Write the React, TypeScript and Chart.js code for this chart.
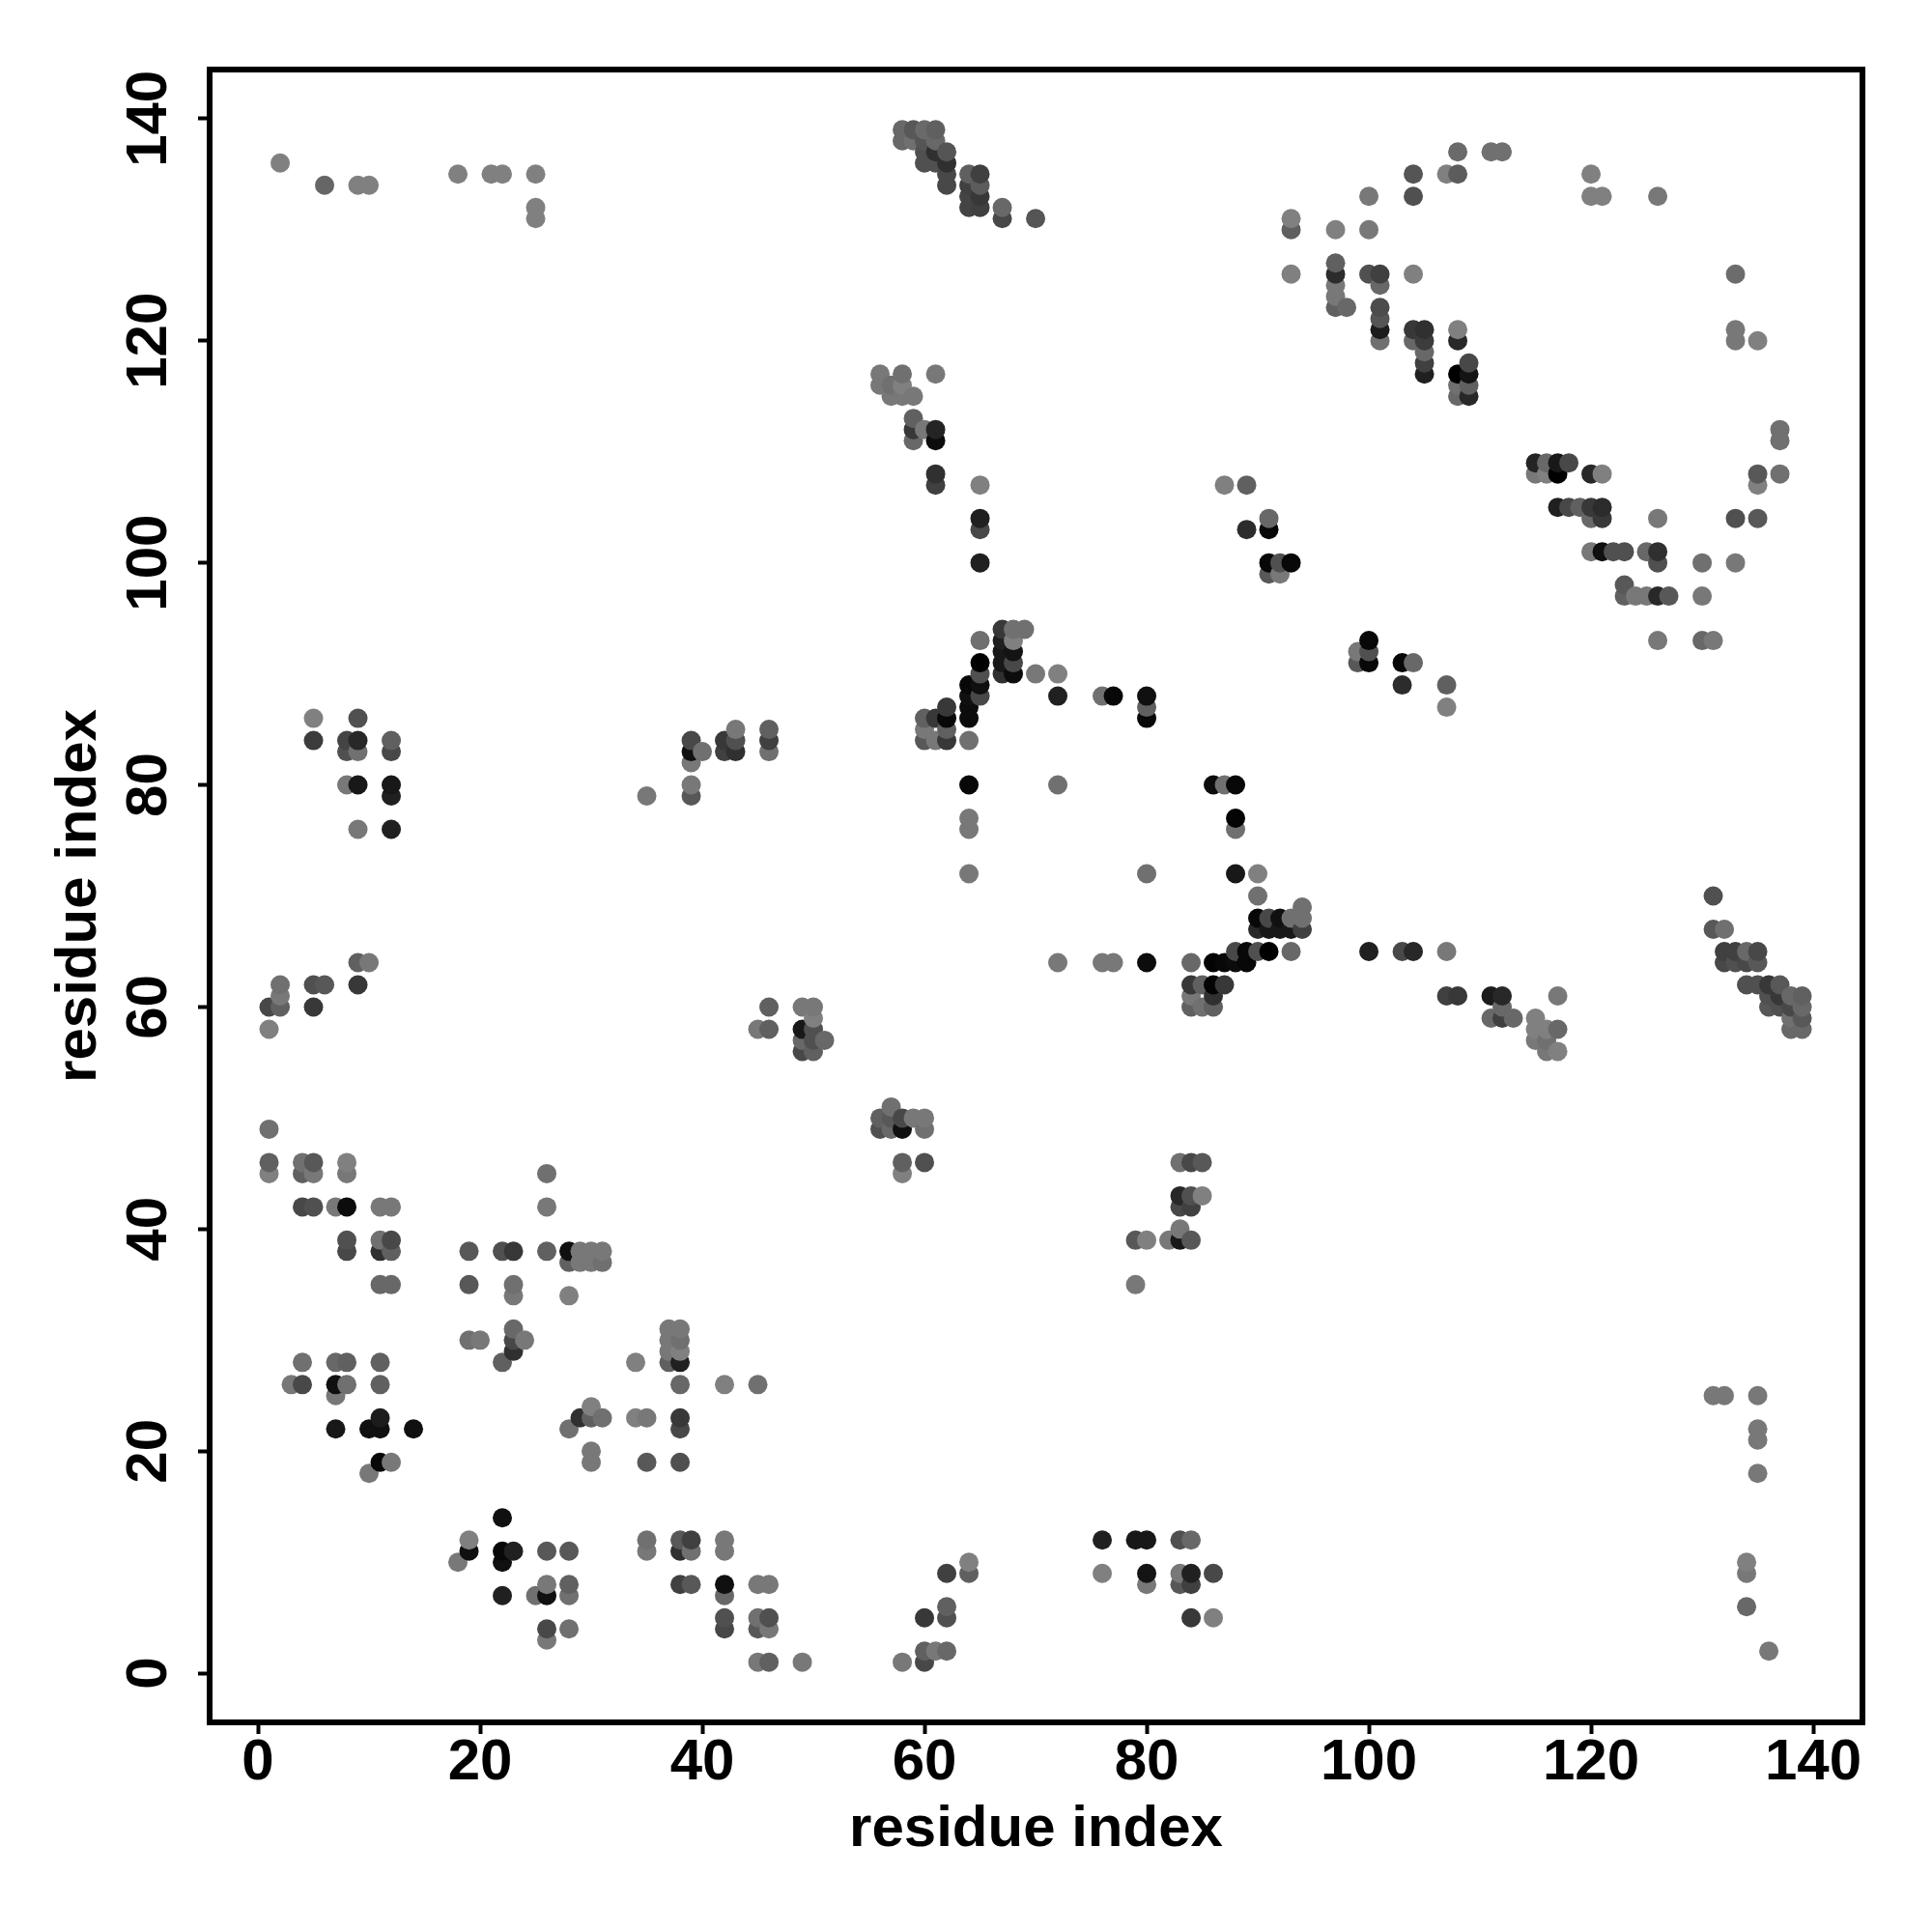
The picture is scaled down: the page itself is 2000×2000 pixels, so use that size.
import React, { useEffect, useRef } from "react";
import { Chart, registerables } from "chart.js";

Chart.register(...registerables);

type Contact = [number, number, number]; // residue x, residue y, grey level

const tickValues = [0, 20, 40, 60, 80, 100, 120, 140];
const axisTitle = "residue index";

const upperLeft: Contact[] = [
  [2,136,0x80],[6,134,0x66],[9,134,0x80],[10,134,0x80],[18,135,0x80],[21,135,0x80],[22,135,0x80],[25,135,0x80],[25,132,0x80],[25,131,0x80],
  [5,86,0x80],[5,84,0x3c],[8,84,0x44],[8,83,0x50],[9,86,0x50],[9,84,0x28],[9,83,0x70],[8,80,0x78],[9,80,0x18],[12,84,0x60],[12,83,0x48],[12,80,0x18],[12,79,0x20],[9,76,0x78],[12,76,0x20],
  [35,79,0x78],[39,79,0x58],[39,80,0x78],[39,82,0x78],[39,83,0x10],[39,84,0x48],[40,83,0x70],[42,84,0x38],[42,83,0x40],[43,85,0x78],[43,84,0x50],[43,83,0x30],[46,85,0x60],[46,84,0x40],[46,83,0x70],
  [9,64,0x60],[10,64,0x78],[9,62,0x38],
];

const topCluster: Contact[] = [
  [58,139,0x68],[58,138,0x68],[59,139,0x58],[59,138,0x70],[60,139,0x6a],[60,138,0x55],[60,137,0x50],[60,136,0x50],
  [61,139,0x60],[61,138,0x68],[61,137,0x30],[61,136,0x50],[62,137,0x55],[62,136,0x30],[62,135,0x48],[62,134,0x48],
  [64,135,0x60],[64,134,0x40],[64,133,0x44],[64,132,0x44],[65,135,0x40],[65,134,0x5c],[65,133,0x38],[65,132,0x40],
  [67,132,0x68],[67,131,0x48],[70,131,0x55],
];

const upperMiddle: Contact[] = [
  [56,117,0x78],[56,116,0x78],[57,116,0x70],[57,115,0x78],[58,117,0x70],[58,116,0x80],[58,115,0x78],[59,115,0x78],[61,117,0x78],
  [59,113,0x60],[59,112,0x38],[59,111,0x68],[60,112,0x78],[61,112,0x24],[61,111,0x0c],[61,108,0x30],[61,107,0x40],
  [65,107,0x80],[65,104,0x20],[65,103,0x48],[65,100,0x20],[87,107,0x80],[89,107,0x60],[91,104,0x68],[89,103,0x2c],[91,103,0x08],
  [91,100,0x08],[92,100,0x50],[93,100,0x08],[91,99,0x58],[92,99,0x78],
];

const middleCluster: Contact[] = [
  [60,86,0x60],[60,85,0x78],[60,84,0x58],[61,86,0x38],[61,84,0x78],[62,87,0x38],[62,86,0x08],[62,85,0x60],[62,84,0x38],
  [64,89,0x08],[64,88,0x10],[64,87,0x0c],[64,86,0x0c],[64,84,0x70],[65,93,0x70],[65,91,0x00],[65,90,0x50],[65,89,0x10],[65,88,0x48],
  [67,94,0x38],[67,93,0x20],[67,92,0x18],[67,91,0x18],[67,90,0x30],[68,94,0x70],[68,93,0x80],[68,92,0x14],[68,91,0x48],[68,90,0x0c],
  [69,94,0x70],[70,90,0x78],[72,90,0x80],[72,88,0x20],[76,88,0x70],[77,88,0x08],[80,88,0x10],[80,87,0x60],[80,86,0x08],
  [72,80,0x70],[86,80,0x0c],[87,80,0x70],[88,80,0x08],[88,77,0x04],[88,76,0x70],[88,72,0x18],[90,72,0x80],[80,72,0x70],
  [64,80,0x08],[64,77,0x78],[64,76,0x78],[64,72,0x78],[90,70,0x70],
];

const helixRow: Contact[] = [
  [94,69,0x70],[90,68,0x08],[91,68,0x48],[92,68,0x10],[93,68,0x70],[94,68,0x70],[90,67,0x28],[91,67,0x18],[92,67,0x18],[93,67,0x18],[94,67,0x40],
  [88,65,0x48],[89,65,0x08],[90,65,0x50],[91,65,0x00],[93,65,0x68],[84,64,0x68],[86,64,0x04],[87,64,0x08],[88,64,0x0c],[89,64,0x08],
  [84,62,0x38],[85,62,0x60],[86,62,0x04],[87,62,0x38],[84,61,0x78],[86,61,0x30],[84,60,0x60],[85,60,0x70],[86,60,0x60],
  [72,64,0x78],[76,64,0x78],[77,64,0x78],[80,64,0x0c],
  [100,65,0x20],[103,65,0x48],[104,65,0x28],[107,65,0x78],
  [107,61,0x40],[108,61,0x38],[111,61,0x1c],[112,61,0x28],[117,61,0x78],
  [112,60,0x68],[111,59,0x68],[112,59,0x40],[113,59,0x68],[115,59,0x80],[115,58,0x80],[115,57,0x78],[116,58,0x80],[116,57,0x70],[116,56,0x78],[117,58,0x68],[117,56,0x80],
];

const upperRight: Contact[] = [
  [108,137,0x6a],[111,137,0x70],[112,137,0x70],[104,135,0x55],[107,135,0x80],[108,135,0x5c],[120,135,0x80],
  [100,133,0x78],[104,133,0x50],[120,133,0x80],[121,133,0x80],[126,133,0x78],[93,131,0x80],[93,130,0x60],[97,130,0x80],[100,130,0x78],
  [93,126,0x80],[104,126,0x80],[133,126,0x6c],
  [97,127,0x60],[97,126,0x2c],[97,125,0x78],[97,124,0x78],[97,123,0x60],[98,123,0x68],[100,126,0x50],
  [101,126,0x40],[101,125,0x68],[101,123,0x4c],[101,122,0x55],[101,121,0x1c],[101,120,0x70],[104,121,0x38],[104,120,0x68],
  [105,121,0x30],[105,120,0x3c],[105,119,0x68],[105,118,0x40],[105,117,0x20],
  [108,121,0x80],[108,120,0x28],[108,117,0x00],[108,116,0x70],[108,115,0x68],[109,118,0x48],[109,117,0x14],[109,116,0x60],[109,115,0x28],
  [133,121,0x78],[133,120,0x78],[135,120,0x80],[137,112,0x70],[137,111,0x70],[135,108,0x58],[137,108,0x70],[135,107,0x80],
];

const betaRight: Contact[] = [
  [115,109,0x24],[116,109,0x68],[117,109,0x18],[118,109,0x48],[115,108,0x78],[116,108,0x80],[117,108,0x00],[120,108,0x28],[121,108,0x80],
  [117,105,0x20],[118,105,0x48],[119,105,0x60],[120,105,0x38],[121,105,0x2c],[120,104,0x68],[121,104,0x38],[126,104,0x78],[133,104,0x50],[135,104,0x58],
  [120,101,0x78],[121,101,0x10],[122,101,0x50],[123,101,0x50],[125,101,0x68],[126,101,0x30],[126,100,0x50],[130,100,0x70],[133,100,0x78],
  [123,98,0x58],[123,97,0x60],[124,97,0x78],[125,97,0x78],[126,97,0x28],[127,97,0x58],[130,97,0x78],[126,93,0x78],[130,93,0x68],[131,93,0x78],
  [100,93,0x08],[99,92,0x78],[100,92,0x50],[99,91,0x58],[100,91,0x08],[103,91,0x08],[104,91,0x68],[103,89,0x2c],[107,89,0x60],[107,87,0x80],
];

const rightCluster: Contact[] = [
  [131,70,0x50],[131,67,0x58],[132,67,0x70],[132,65,0x40],[133,65,0x40],[134,65,0x68],[135,65,0x48],[132,64,0x48],[133,64,0x50],[134,64,0x48],[135,64,0x58],
  [134,62,0x50],[135,62,0x50],[136,62,0x38],[137,62,0x58],[136,61,0x50],[137,61,0x38],[138,61,0x68],[139,61,0x60],
  [136,60,0x58],[137,60,0x50],[138,60,0x48],[139,60,0x68],[138,59,0x70],[139,59,0x58],[138,58,0x68],[139,58,0x68],
];

const lowerLeft: Contact[] = [
  [1,60,0x48],[2,60,0x60],[2,61,0x78],[2,62,0x70],[5,62,0x50],[6,62,0x58],[5,60,0x38],[1,58,0x80],
  [1,49,0x70],[1,46,0x60],[1,45,0x80],[4,46,0x70],[4,45,0x60],[5,46,0x58],[5,45,0x78],[8,46,0x80],[8,45,0x78],
  [4,42,0x48],[5,42,0x50],[7,42,0x78],[8,42,0x0c],[11,42,0x78],[12,42,0x78],[8,39,0x50],[8,38,0x48],[11,39,0x70],[11,38,0x30],[12,39,0x48],[12,38,0x60],[11,35,0x68],[12,35,0x68],
  [4,28,0x70],[7,28,0x68],[8,28,0x60],[11,28,0x60],[3,26,0x78],[4,26,0x48],[7,26,0x10],[8,26,0x70],[7,25,0x78],[11,26,0x60],
  [7,22,0x18],[10,22,0x10],[11,22,0x10],[11,23,0x1c],[14,22,0x10],[11,19,0x08],[12,19,0x78],[10,18,0x78],
];

const lowerMiddleLeft: Contact[] = [
  [26,45,0x70],[26,42,0x78],[19,38,0x58],[22,38,0x50],[23,38,0x38],[26,38,0x60],[28,38,0x10],[28,37,0x60],[29,38,0x78],[29,37,0x78],[30,38,0x78],[30,37,0x78],[31,38,0x78],[31,37,0x70],
  [19,35,0x58],[23,35,0x70],[23,34,0x78],[28,34,0x80],[19,30,0x70],[20,30,0x78],[23,31,0x68],[23,30,0x48],[23,29,0x30],[22,28,0x60],[24,30,0x78],
  [28,22,0x70],[29,23,0x30],[30,23,0x60],[31,23,0x70],[30,24,0x80],[30,20,0x78],[30,19,0x78],
  [34,28,0x80],[34,23,0x80],[35,23,0x78],[35,19,0x58],[38,19,0x50],[38,23,0x38],[38,22,0x48],[38,26,0x68],
  [37,31,0x78],[37,30,0x78],[37,29,0x78],[37,28,0x60],[38,31,0x78],[38,30,0x70],[38,29,0x80],[38,28,0x20],[42,26,0x80],[45,26,0x70],
];

const bottomRow: Contact[] = [
  [22,14,0x10],[19,12,0x80],[19,11,0x10],[18,10,0x78],[22,11,0x08],[22,10,0x10],[23,11,0x20],[22,7,0x20],[26,11,0x58],[28,11,0x58],[26,8,0x78],[26,7,0x10],[25,7,0x70],[28,8,0x60],[28,7,0x70],[26,4,0x48],[26,3,0x78],[28,4,0x70],
  [35,12,0x70],[35,11,0x78],[38,12,0x58],[38,11,0x30],[39,12,0x40],[39,11,0x70],[38,8,0x40],[39,8,0x58],[42,12,0x78],[42,11,0x78],[42,8,0x10],[42,7,0x68],[42,5,0x50],[42,4,0x48],
  [45,8,0x78],[46,8,0x78],[45,5,0x70],[45,4,0x58],[46,5,0x50],[46,4,0x78],[45,1,0x78],[46,1,0x60],[49,1,0x78],[58,1,0x78],[60,2,0x60],[60,1,0x48],[61,2,0x78],[62,2,0x68],[60,5,0x38],[62,6,0x60],[62,5,0x50],[62,9,0x40],[64,9,0x60],[64,10,0x80],
  [76,12,0x20],[79,12,0x18],[80,12,0x18],[83,12,0x50],[84,12,0x68],[76,9,0x80],[80,9,0x14],[80,8,0x78],[83,9,0x78],[83,8,0x58],[84,9,0x20],[84,8,0x40],[86,9,0x48],[84,5,0x38],[86,5,0x80],
];

const centerBlocks: Contact[] = [
  [45,58,0x78],[46,58,0x60],[46,60,0x60],[49,60,0x78],[50,60,0x78],[50,59,0x80],[49,58,0x18],[50,58,0x50],[49,57,0x68],[50,57,0x50],[51,57,0x68],[49,56,0x48],[50,56,0x60],
  [57,51,0x70],[56,50,0x60],[57,50,0x58],[58,50,0x48],[59,50,0x78],[60,50,0x78],[56,49,0x50],[57,49,0x68],[58,49,0x10],[60,49,0x70],[58,46,0x60],[60,46,0x50],[58,45,0x80],
  [83,46,0x70],[84,46,0x48],[85,46,0x58],[83,43,0x28],[84,43,0x50],[85,43,0x80],[83,42,0x48],[84,42,0x40],[83,40,0x78],[83,39,0x18],[84,39,0x58],[82,39,0x78],[79,39,0x58],[80,39,0x80],[79,35,0x78],
];

const lowerRight: Contact[] = [
  [131,25,0x78],[132,25,0x78],[135,25,0x78],[135,22,0x78],[135,21,0x78],[135,18,0x78],[134,10,0x80],[134,9,0x78],[134,6,0x68],[136,2,0x78],
];

const contacts: Contact[] = [
  ...upperLeft, ...topCluster, ...upperMiddle, ...middleCluster, ...helixRow, ...upperRight,
  ...betaRight, ...rightCluster, ...lowerLeft, ...lowerMiddleLeft, ...bottomRow, ...centerBlocks, ...lowerRight,
].sort((a, b) => a[0] - b[0] || a[1] - b[1]);

const FONT = "'Liberation Sans', Arial, sans-serif";
const FONT_SIZE = 60;

const framePlugin = {
  id: "frameAndYLabels",
  afterDraw(chart: any) {
    const { ctx, chartArea: a, scales } = chart;
    ctx.save();
    ctx.strokeStyle = "#000";
    ctx.lineWidth = 6;
    ctx.lineJoin = "miter";
    ctx.strokeRect(a.left, a.top, a.right - a.left, a.bottom - a.top);
    ctx.fillStyle = "#000";
    ctx.font = `bold ${FONT_SIZE}px ${FONT}`;
    ctx.textAlign = "center";
    ctx.textBaseline = "alphabetic";
    for (const v of tickValues) {
      ctx.save();
      ctx.translate(172, scales.y.getPixelForValue(v));
      ctx.rotate(-Math.PI / 2);
      ctx.fillText(String(v), 0, 0);
      ctx.restore();
    }
    ctx.restore();
  },
};

export default function App() {
  const ref = useRef<HTMLCanvasElement | null>(null);
  useEffect(() => {
    const axis = (isX: boolean) => ({
      type: "linear" as const,
      min: isX ? -4.35 : -4.42,
      max: isX ? 144.43 : 144.42,
      afterBuildTicks(scale: any) {
        scale.ticks = tickValues.map((value) => ({ value }));
      },
      afterFit(scale: any) {
        if (isX) scale.height = 217;
        else scale.width = 217;
      },
      grid: { drawOnChartArea: false, drawTicks: true, tickLength: 12, tickWidth: 4, tickColor: "#000" },
      border: { display: false },
      ticks: {
        display: isX,
        autoSkip: false,
        maxRotation: 0,
        padding: -6,
        color: "#000",
        font: { family: FONT, size: FONT_SIZE, weight: "bold" as const },
      },
      title: {
        display: true,
        text: axisTitle,
        color: "#000",
        font: { family: FONT, size: FONT_SIZE, weight: "bold" as const },
        padding: isX ? { top: 0, bottom: 70 } : { top: 46, bottom: 0 },
      },
    });
    const chart = new Chart(ref.current as HTMLCanvasElement, {
      type: "scatter",
      data: {
        datasets: [
          {
            data: contacts.map(([x, y]) => ({ x, y })),
            pointRadius: 10,
            pointHoverRadius: 10,
            pointBorderWidth: 0,
            pointBackgroundColor: contacts.map(([, , g]) => `rgb(${g},${g},${g})`),
          },
        ],
      },
      options: {
        responsive: false,
        animation: false,
        devicePixelRatio: 1,
        layout: { padding: { top: 72, right: 72, left: 0, bottom: 0 } },
        plugins: { legend: { display: false }, title: { display: false }, tooltip: { enabled: false } },
        scales: { x: axis(true), y: axis(false) },
      },
      plugins: [framePlugin],
    } as any);
    return () => chart.destroy();
  }, []);
  return (
    <div style={{ position: "absolute", left: 0, top: 0, width: 2000, height: 2000, background: "#fff" }}>
      <canvas ref={ref} width={2000} height={2000} style={{ display: "block", width: 2000, height: 2000 }} />
    </div>
  );
}
